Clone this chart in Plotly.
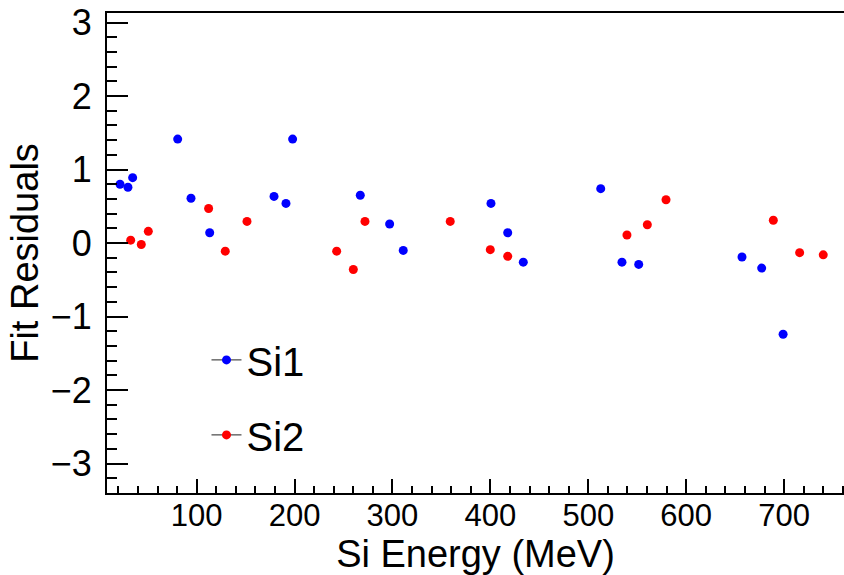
import plotly.graph_objects as go

# Si1 (blue)
si1_x = [21.7, 29.8, 34.6, 80.6, 94.2, 113.3, 179.0, 191.2, 198.0, 267.1, 297.1, 311.0,
         400.6, 417.7, 433.6, 512.7, 534.4, 551.5, 657.0, 677.1, 699.0]
si1_y = [0.80, 0.76, 0.89, 1.415, 0.61, 0.14, 0.635, 0.54, 1.415, 0.65, 0.26, -0.10,
         0.54, 0.14, -0.26, 0.74, -0.26, -0.29, -0.19, -0.34, -1.24]
# Si2 (red)
si2_x = [32.6, 43.4, 50.6, 112.2, 129.2, 151.4, 243.0, 260.0, 271.9, 359.0, 399.9, 417.7,
         539.5, 560.3, 579.4, 689.0, 715.9, 740.0]
si2_y = [0.04, -0.02, 0.16, 0.47, -0.11, 0.295, -0.11, -0.36, 0.295, 0.295, -0.09, -0.18,
         0.11, 0.25, 0.59, 0.31, -0.13, -0.16]

series_names = ["Si1", "Si2"]
series_colors = ["#0000ff", "#ff0000"]
x_tick_vals = [100, 200, 300, 400, 500, 600, 700]
y_tick_vals = [-3, -2, -1, 0, 1, 2, 3]
y_tick_text = ["\u22123", "\u22122", "\u22121", "0", "1", "2", "3"]

FONT = "Liberation Sans, Arial, sans-serif"

fig = go.Figure()
for name, color, xs, ys in [(series_names[0], series_colors[0], si1_x, si1_y),
                            (series_names[1], series_colors[1], si2_x, si2_y)]:
    fig.add_trace(go.Scatter(x=xs, y=ys, mode="markers", name=name, showlegend=False,
                             marker=dict(color=color, size=9)))
    fig.add_trace(go.Scatter(x=[None], y=[None], mode="lines+markers", name=name,
                             legendgroup=name, showlegend=True,
                             line=dict(color="#222222", width=1),
                             marker=dict(color=color, size=9)))

fig.update_layout(
    width=844, height=575,
    margin=dict(l=107, r=0, t=13, b=82, autoexpand=False),
    paper_bgcolor="white", plot_bgcolor="white",
    font=dict(family=FONT, color="black"),
    showlegend=True,
    legend=dict(x=0.135, y=0.345, xanchor="left", yanchor="top",
                font=dict(size=40, family=FONT), bgcolor="rgba(0,0,0,0)",
                tracegroupgap=20, itemwidth=30),
    xaxis=dict(range=[8.4, 761.2], showgrid=False, zeroline=False, automargin=False,
               showline=True, linecolor="black", linewidth=2, mirror=True,
               ticks="inside", ticklen=14, tickwidth=1.5, tickcolor="black",
               tickvals=x_tick_vals, tickfont=dict(size=31, family=FONT),
               ticklabelstandoff=-6,
               minor=dict(dtick=20, tick0=0, ticks="inside", ticklen=7, tickwidth=1.5,
                          tickcolor="black", showgrid=False),
               title=dict(text="Si Energy (MeV)", font=dict(size=38, family=FONT), standoff=20)),
    yaxis=dict(range=[-3.40, 3.13], showgrid=False, zeroline=False, automargin=False,
               showline=True, linecolor="black", linewidth=2,
               ticks="inside", ticklen=21, tickwidth=1.5, tickcolor="black",
               tickvals=y_tick_vals, ticktext=y_tick_text,
               tickfont=dict(size=36, family=FONT), ticklabelstandoff=6,
               minor=dict(dtick=0.2, tick0=0, ticks="inside", ticklen=10, tickwidth=1.5,
                          tickcolor="black", showgrid=False),
               title=dict(text="Fit Residuals", font=dict(size=38, family=FONT), standoff=0)),
)

fig.write_html("out.html", config={"displayModeBar": False},
               post_script="document.body.style.margin='0';document.body.style.overflow='hidden';")
